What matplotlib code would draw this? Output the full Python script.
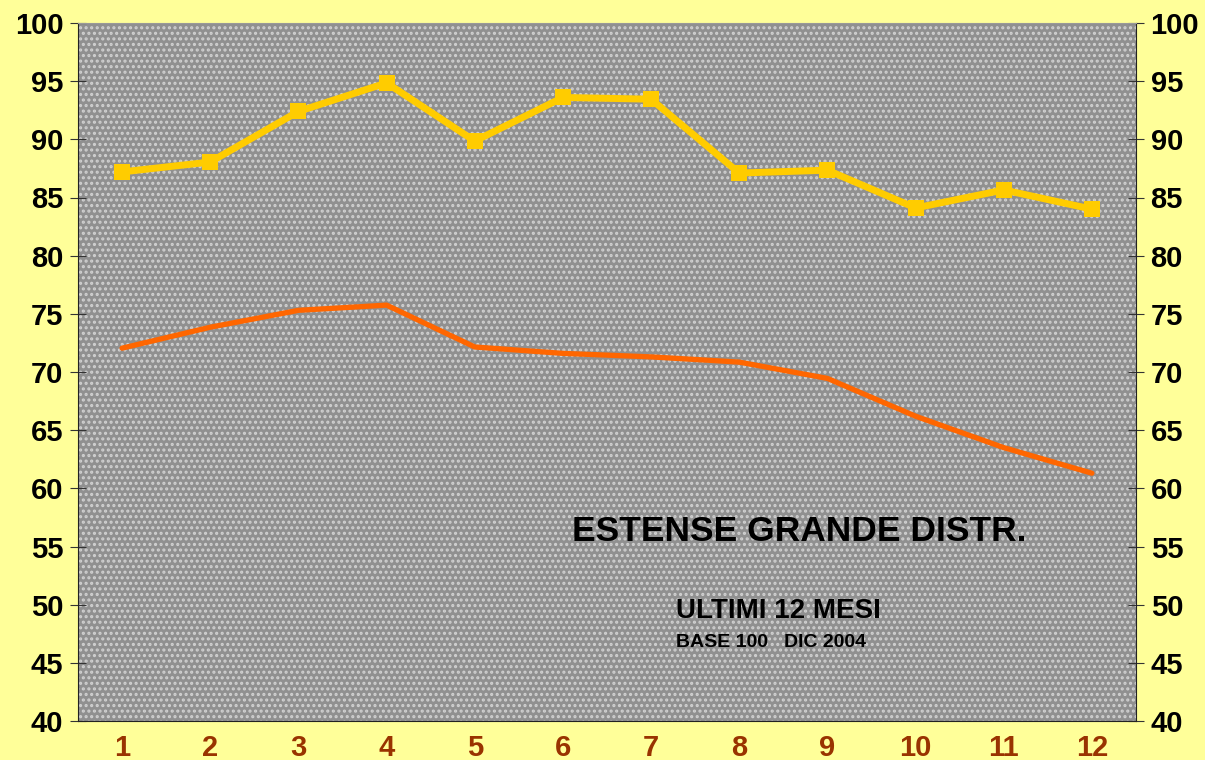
import matplotlib.pyplot as plt
import numpy as np

plt.rcParams['font.family'] = ['Liberation Sans', 'DejaVu Sans']
plt.rcParams['hatch.linewidth'] = 1.5

mesi = list(range(1, 13))
gialla = [87.2, 88.05, 92.4, 94.85, 89.85, 93.6, 93.45, 87.1, 87.35, 84.1, 85.65, 84.0]
arancio = [72.05, 73.85, 75.3, 75.75, 72.15, 71.6, 71.3, 70.85, 69.45, 66.2, 63.5, 61.3]

fig = plt.figure(figsize=(12.05, 7.6), dpi=100, facecolor='#FFFF99')
ax = fig.add_axes([78 / 1205, 1 - 721 / 760, (1136 - 78) / 1205, (721 - 23) / 760])
ax.set_facecolor('#909090')
ax.patch.set_hatch('...')
ax.patch.set_edgecolor('#d0d0d0')

x = np.array(mesi)
ax.plot(x, arancio, color='#FF6600', linewidth=3.8, solid_capstyle='round', zorder=3)
ax.plot(x, gialla, color='#FFCC00', linewidth=5, marker='s', markersize=12,
        markeredgewidth=0, zorder=4)

ax.set_xlim(0.5, 12.5)
ax.set_ylim(40, 100)
ax.set_yticks(range(40, 101, 5))
ax.set_xticks(mesi)
ax.set_xticklabels([str(m) for m in mesi], fontsize=21, fontweight='bold', color='#993300')
ax.tick_params(axis='x', length=0, pad=9)
ax.tick_params(axis='y', direction='inout', length=11, width=0.8, color='#333333',
               labelsize=21, pad=5, left=True, right=True, labelleft=True, labelright=True)
for lab in ax.get_yticklabels():
    lab.set_fontweight('bold')

ax.spines['top'].set_color('#999999')
ax.spines['right'].set_color('#222222')
ax.spines['left'].set_color('#222222')
ax.spines['bottom'].set_color('#222222')

ax.text(0.467, 0.272, 'ESTENSE GRANDE DISTR.', transform=ax.transAxes,
        fontsize=25.5, fontweight='bold', color='black', va='center')
ax.text(0.565, 0.157, 'ULTIMI 12 MESI', transform=ax.transAxes,
        fontsize=20, fontweight='bold', color='black', va='center')
ax.text(0.565, 0.113, 'BASE 100   DIC 2004', transform=ax.transAxes,
        fontsize=14, fontweight='bold', color='black', va='center')

fig.savefig('out.png', dpi=100, facecolor=fig.get_facecolor())
